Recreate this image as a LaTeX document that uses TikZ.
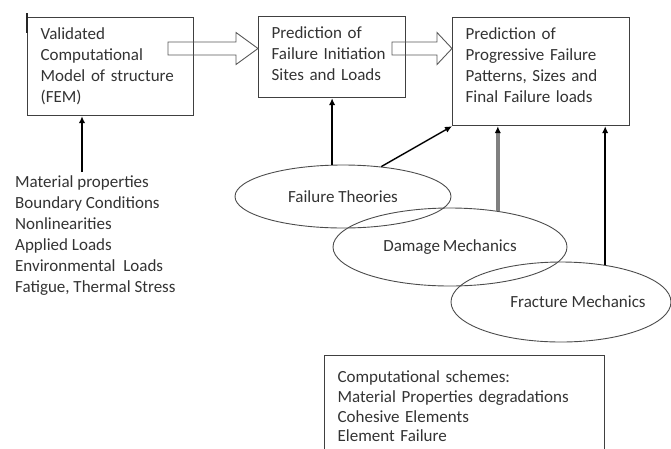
\documentclass[tikz,border=0pt]{standalone}
\usepackage{fontspec}
\setmainfont{Carlito}
\usetikzlibrary{arrows.meta,shapes.geometric,calc}

% hollow block arrow from #1 to the tip #2, head length #3
\newcommand{\fatarrow}[3]{%
  \draw[blockarrow] let \p1=(#1), \p2=(#2) in
    (\x1,\y1+6.5pt) -- (\x2-#3,\y1+6.5pt) -- (\x2-#3,\y1+16pt) -- (\x2,\y1)
    -- (\x2-#3,\y1-16pt) -- (\x2-#3,\y1-6.5pt) -- (\x1,\y1-6.5pt) -- cycle;}

\begin{document}
\begin{tikzpicture}[x=1pt,y=-1pt,
  every node/.style={font=\fontsize{17pt}{21pt}\selectfont,text=black!80},
  procbox/.style={draw=black!75,line width=1.2pt,align=left,anchor=north west,
    inner xsep=13pt,inner ysep=10pt,text height=12pt,text width=#1},
  theory/.style={draw=black!70,line width=0.9pt,ellipse,inner sep=0pt},
  blockarrow/.style={draw=black!65,line width=0.9pt},
  arr/.style={line width=1.4pt,-{Latex[length=7pt,width=6.5pt,color=black]}}]
\useasboundingbox (0,0) rectangle (671,448);

% boxes
\node[procbox=140pt,text depth=66pt] (fem) at (27,17)
  {Validated\\ Computational\\ Model of structure\\ (FEM)};
\node[procbox=121pt,text depth=49pt] (init) at (258,16)
  {Prediction of\\ Failure Initiation\\ Sites and Loads};
\node[procbox=151pt,text depth=76pt] (prog) at (452,17)
  {Prediction of\\ Progressive Failure\\ Patterns, Sizes and\\ Final Failure loads};
\node[procbox=254pt,inner ysep=15pt,font=\fontsize{17pt}{19.7pt}\selectfont] (schemes) at (324,355)
  {Computational schemes:\\ Material Properties degradations\\ Cohesive Elements\\ Element Failure};
\draw[line width=2.6pt,black!85] ([yshift=4pt]fem.north west) -- ++(0,20);

% inputs
\node[align=left,anchor=north west,inner sep=3pt] (inputs) at (12,172)
  {Material properties\\ Boundary Conditions\\ Nonlinearities\\ Applied Loads\\
   Environmental~ Loads\\ Fatigue, Thermal Stress};

% theories
\node[theory,minimum width=216pt,minimum height=63pt] (ft) at (343,196.5) {Failure Theories};
\node[theory,minimum width=234pt,minimum height=78pt] (dm) at (450,247) {Damage\,Mechanics};
\node[theory,minimum width=220pt,minimum height=80pt,
  label={[xshift=17pt,font=\fontsize{17pt}{21pt}\selectfont,text=black!80]center:Fracture Mechanics}]
  (fm) at (561,302) {};

% flow
\coordinate (a1) at (168,48.5);
\coordinate (a2) at (392,48.5);
\fatarrow{a1}{init.west |- a1}{22pt}
\fatarrow{a2}{prog.west |- a2}{15pt}

\draw[arr] (inputs.north -| 82,0) -- (fem.south -| 82,0);
\draw[arr] (init.south |- ft.north) -- (init.south);
\draw[arr] (ft.38) -- (prog.south west);
\draw[arr,black!50,line width=3.4pt] (dm.37) -- (dm.37 |- prog.south);
\draw[arr] (fm.40) -- (fm.40 |- prog.south);
\end{tikzpicture}
\end{document}
